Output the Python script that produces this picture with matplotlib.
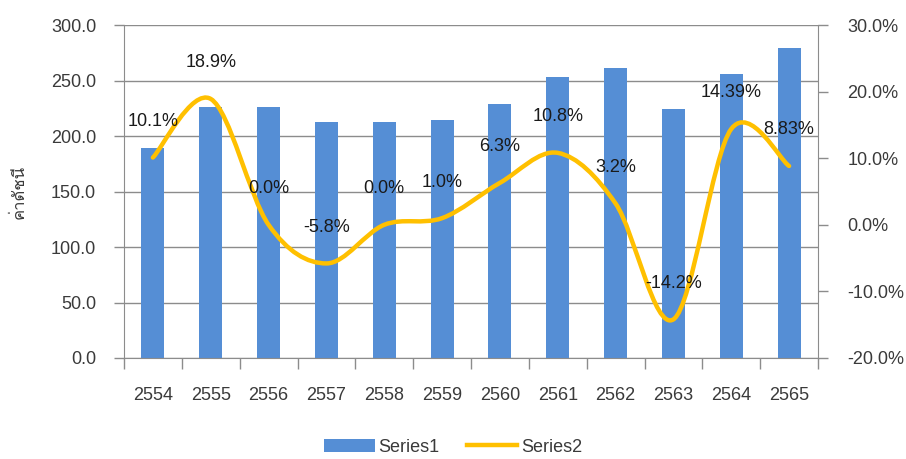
import matplotlib
matplotlib.use("Agg")
import matplotlib.pyplot as plt
from matplotlib.path import Path
from matplotlib.patches import PathPatch
from matplotlib.lines import Line2D
from matplotlib.patches import Patch
from matplotlib import font_manager
from matplotlib.ft2font import FT2Font
import numpy as np

# ---- data ----
years = ["2554", "2555", "2556", "2557", "2558", "2559",
         "2560", "2561", "2562", "2563", "2564", "2565"]
series1 = [189.5, 225.8, 225.8, 212.7, 212.7, 214.8,
           228.4, 253.0, 261.1, 224.0, 256.2, 279.0]
series2 = [10.1, 18.9, 0.0, -5.8, 0.0, 1.0, 6.3, 10.8, 3.2, -14.2, 14.39, 8.83]
series2_labels = ["10.1%", "18.9%", "0.0%", "-5.8%", "0.0%", "1.0%",
                  "6.3%", "10.8%", "3.2%", "-14.2%", "14.39%", "8.83%"]
left_ticks = [0, 50, 100, 150, 200, 250, 300]
right_ticks = [-20, -10, 0, 10, 20, 30]
ylabel = "ค่าดัชนี"

# ---- fonts ----
base = "Liberation Sans"
thai_fam = None
for f in font_manager.fontManager.ttflist:
    try:
        cm = FT2Font(f.fname).get_charmap()
        if 0x0E04 in cm and 0x0E14 in cm:
            thai_fam = f.name
            break
    except Exception:
        pass
plt.rcParams["font.family"] = [base, "DejaVu Sans"]
label_family = [thai_fam, base] if thai_fam else [base, "DejaVu Sans"]

bar_color = "#558ED5"
line_color = "#FFC000"
grid_color = "#8C8C8C"
text_color = "#3a3a3a"

fig = plt.figure(figsize=(9.06, 4.59), dpi=100)
W, H = 906, 459
x0, x1, ytop, ybot = 124, 818, 25, 358
ax = fig.add_axes([x0 / W, 1 - ybot / H, (x1 - x0) / W, (ybot - ytop) / H])
ax2 = ax.twinx()

x = np.arange(len(years))
ax.bar(x, series1, width=0.4, color=bar_color, zorder=2)
ax.set_xlim(-0.5, len(years) - 0.5)
ax.set_ylim(0, 300)
ax.set_yticks(left_ticks)
ax.set_yticklabels([f"{v:.1f}" for v in left_ticks])
ax.yaxis.grid(True, color=grid_color, linewidth=1.0, zorder=0)
ax.set_axisbelow(True)

ax.set_xticks(x)
ax.set_xticklabels(years)
ax.set_xticks(np.arange(-0.5, len(years)), minor=True)
ax.tick_params(axis="x", which="major", length=0, pad=21, labelsize=13, labelcolor=text_color)
ax.tick_params(axis="x", which="minor", length=8, width=1, color=grid_color, direction="out")
ax.tick_params(axis="y", length=7, width=1, color=grid_color, pad=13, labelsize=13, labelcolor=text_color)
for s in ["top", "right"]:
    ax.spines[s].set_visible(False)
ax.spines["left"].set_color(grid_color)
ax.spines["bottom"].set_color(grid_color)

ax.set_ylabel(ylabel, family=label_family, fontsize=12, color=text_color, labelpad=17)

# smooth line (Excel-style Bezier smoothing through the data points)
ax2.set_ylim(-20, 30)
ax2.set_yticks(right_ticks)
ax2.set_yticklabels([f"{v:.1f}%" for v in right_ticks])
ax2.tick_params(axis="y", length=7, width=1, color=grid_color, pad=14, labelsize=13, labelcolor=text_color)
for s in ["top", "left", "bottom"]:
    ax2.spines[s].set_visible(False)
ax2.spines["right"].set_color(grid_color)

P = np.column_stack([x, series2]).astype(float)
n = len(P)
verts = [P[0]]
codes = [Path.MOVETO]
for i in range(n - 1):
    pm = P[i - 1] if i > 0 else P[i]
    p2 = P[i + 2] if i + 2 < n else P[i + 1]
    c1 = P[i] + (P[i + 1] - pm) / 6.0
    c2 = P[i + 1] - (p2 - P[i]) / 6.0
    verts += [c1, c2, P[i + 1]]
    codes += [Path.CURVE4] * 3
path = Path(verts, codes)
ax2.add_patch(PathPatch(path, facecolor="none", edgecolor=line_color, linewidth=3.2,
                        capstyle="round", joinstyle="round", zorder=3))

for xi, v, lab in zip(x, series2, series2_labels):
    ax2.annotate(lab, (xi, v), xytext=(0, 26), textcoords="offset points",
                 ha="center", va="center", fontsize=13, color="#1a1a1a")

handles = [Patch(facecolor=bar_color, edgecolor="none"),
           Line2D([0], [0], color=line_color, linewidth=3.2)]
fig.legend(handles, ["Series1", "Series2"], loc="center", bbox_to_anchor=(0.5, 12 / H),
           ncol=2, frameon=False, fontsize=13, handlelength=2.8, handleheight=0.75,
           columnspacing=1.5, handletextpad=0.2, labelcolor=text_color,
           borderpad=0.1)

fig.savefig("out.png", dpi=100)
